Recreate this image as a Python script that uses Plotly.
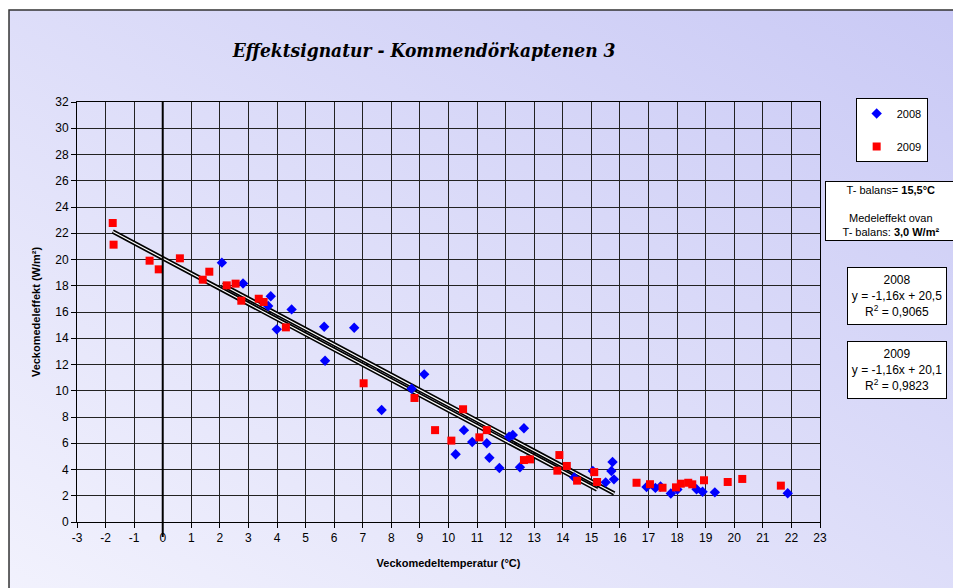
import base64
import numpy as np
import plotly.graph_objects as go

# weekly mean temperature (°C) and weekly mean power (W/m²)
x2008 = [2.07, 2.81, 3.78, 3.69, 3.99, 4.51, 5.65, 5.68, 6.7, 7.66, 8.71, 9.15,
         10.25, 10.54, 10.83, 11.34, 11.43, 11.78, 12.12, 12.25, 12.64, 12.5,
         14.4, 15.05, 15.5, 15.74, 15.7, 15.79, 16.93, 17.24, 17.42, 17.78,
         18.01, 18.68, 18.89, 19.32, 21.87]
y2008 = [19.76, 18.17, 17.2, 16.46, 14.68, 16.2, 14.88, 12.29, 14.8, 8.53, 10.15, 11.25,
         5.16, 7.0, 6.1, 6.0, 4.9, 4.11, 6.5, 6.63, 7.14, 4.17,
         3.4, 3.89, 3.02, 4.57, 3.89, 3.25, 2.67, 2.6, 2.7, 2.17,
         2.48, 2.49, 2.31, 2.26, 2.19]

x2009 = [-1.75, -1.72, -0.46, -0.14, 0.6, 1.4, 1.63, 2.24, 2.55, 2.75, 3.36, 3.53,
         4.31, 7.03, 8.81, 9.53, 10.1, 10.51, 11.08, 11.34, 12.64, 12.85, 13.88,
         13.81, 14.14, 14.5, 15.1, 15.2, 16.58, 17.05, 17.49, 17.96, 18.13, 18.39,
         18.53, 18.94, 19.77, 20.28, 21.63]
y2009 = [22.78, 21.13, 19.91, 19.25, 20.09, 18.46, 19.07, 18.03, 18.16, 16.86, 17.01, 16.76,
         14.83, 10.57, 9.45, 7.0, 6.2, 8.59, 6.45, 7.0, 4.72, 4.77, 5.1,
         3.91, 4.27, 3.15, 3.8, 3.05, 2.99, 2.88, 2.61, 2.64, 2.92, 2.99,
         2.87, 3.18, 3.05, 3.28, 2.77]

# trendlines (from the equations in the boxes)
k2008, m2008, r2_2008 = -1.16, 20.5, "0,9065"
k2009, m2009, r2_2009 = -1.16, 20.1, "0,9823"
trend2008_x = [2.07, 15.8]
trend2009_x = [-1.75, 15.2]

x_ticks = list(range(-3, 24))
y_ticks = list(range(0, 33, 2))

tick_font = dict(family="Liberation Sans Narrow, Arial Narrow, Liberation Sans", size=12, color="black")

fig = go.Figure()

# double-line trendlines: thick black with a thin white core
for tx, k, m in [(trend2009_x, k2009, m2009), (trend2008_x, k2008, m2008)]:
    tx = np.array(tx)
    fig.add_trace(go.Scatter(x=tx, y=k * tx + m, mode="lines",
                             line=dict(color="black", width=4.5), showlegend=False, hoverinfo="skip"))
    fig.add_trace(go.Scatter(x=tx, y=k * tx + m, mode="lines",
                             line=dict(color="white", width=1.2), showlegend=False, hoverinfo="skip"))

fig.add_trace(go.Scatter(x=x2008, y=y2008, mode="markers", name="2008", legendgroup="a",
                         marker=dict(symbol="diamond", size=8, color="#0000FF")))
fig.add_trace(go.Scatter(x=x2009, y=y2009, mode="markers", name="2009", legendgroup="b",
                         marker=dict(symbol="square", size=8, color="#FF0000")))

# gradient background inside the outer frame
svg = ('<svg xmlns="http://www.w3.org/2000/svg" width="200" height="200" preserveAspectRatio="none">'
       '<defs><linearGradient id="g" x1="0" y1="1" x2="1" y2="0">'
       '<stop offset="0" stop-color="#F2F2FD"/><stop offset="1" stop-color="#C9C9F5"/>'
       '</linearGradient></defs><rect width="200" height="200" fill="url(#g)"/></svg>')
bg_src = "data:image/svg+xml;base64," + base64.b64encode(svg.encode()).decode()

fig.update_layout(
    width=961, height=588,
    margin=dict(l=69, r=149, t=94, b=74),
    paper_bgcolor="white",
    plot_bgcolor="white",
    images=[dict(source=bg_src, xref="paper", yref="paper", x=-0.0915, y=1.219,
                 sizex=1.3, sizey=1.4, sizing="stretch", xanchor="left", yanchor="top",
                 layer="below")],
    title=dict(text="<b><i>Effektsignatur - Kommendörkaptenen 3</i></b>",
               x=0.433, xanchor="center", y=0.9286, yanchor="middle",
               font=dict(family="DejaVu Serif Condensed, DejaVu Serif", size=19, color="black")),
    showlegend=True,
    legend=dict(x=1.048, y=1.0095, xanchor="left", yanchor="top",
                bgcolor="white", bordercolor="black", borderwidth=1,
                font=dict(family="Liberation Sans", size=11, color="black"),
                tracegroupgap=14, itemwidth=30,
                traceorder="grouped"),
    shapes=[
        # outer chart frame
        dict(type="rect", xref="paper", yref="paper", x0=-0.0915, x1=1.25, y0=-0.25, y1=1.219,
             line=dict(color="#333333", width=1.5), layer="below"),
        # x = 0 reference line
        dict(type="line", xref="x", yref="paper", x0=0, x1=0, y0=-0.036, y1=1,
             line=dict(color="black", width=2)),
    ],
    annotations=[
        dict(xref="paper", yref="paper", x=1.0956, y=0.7405, xanchor="center", yanchor="middle",
             text="T- balans= <b>15,5°C</b><br> <br>Medeleffekt ovan<br>T- balans: <b>3,0 W/m²</b>",
             showarrow=False, align="center", bgcolor="white", bordercolor="black", borderwidth=1,
             width=128, height=56, font=dict(family="Liberation Sans", size=11, color="black")),
        dict(xref="paper", yref="paper", x=1.1036, y=0.538, xanchor="center", yanchor="middle",
             text=f"2008<br>y = {k2008:.2f}x + {m2008:.1f}<br>R<sup>2</sup> = {r2_2008}".replace(".", ","),
             showarrow=False, align="center", bgcolor="white", bordercolor="black", borderwidth=1,
             width=96, height=54, font=dict(family="Liberation Sans", size=12, color="black")),
        dict(xref="paper", yref="paper", x=1.1036, y=0.362, xanchor="center", yanchor="middle",
             text=f"2009<br>y = {k2009:.2f}x + {m2009:.1f}<br>R<sup>2</sup> = {r2_2009}".replace(".", ","),
             showarrow=False, align="center", bgcolor="white", bordercolor="black", borderwidth=1,
             width=96, height=54, font=dict(family="Liberation Sans", size=12, color="black")),
    ],
)

fig.update_xaxes(range=[-3, 23], tickvals=x_ticks, ticktext=[str(v) for v in x_ticks],
                 showgrid=True, gridcolor="#222222", gridwidth=1,
                 showline=True, linecolor="black", linewidth=1, mirror=True,
                 ticks="outside", ticklen=5, tickcolor="black", tickfont=tick_font,
                 zeroline=False,
                 title=dict(text="<b>Veckomedeltemperatur (°C)</b>", standoff=14,
                            font=dict(family="Liberation Sans Narrow, Arial Narrow, Liberation Sans",
                                      size=11, color="black")))
fig.update_yaxes(range=[0, 32], tickvals=y_ticks,
                 showgrid=True, gridcolor="#222222", gridwidth=1,
                 showline=True, linecolor="black", linewidth=1, mirror=True,
                 ticks="outside", ticklen=5, tickcolor="black", tickfont=tick_font,
                 zeroline=False,
                 title=dict(text="<b>Veckomedeleffekt (W/m²)</b>", standoff=12,
                            font=dict(family="Liberation Sans Narrow, Arial Narrow, Liberation Sans",
                                      size=11, color="black")))

fig.write_html("out.html")
